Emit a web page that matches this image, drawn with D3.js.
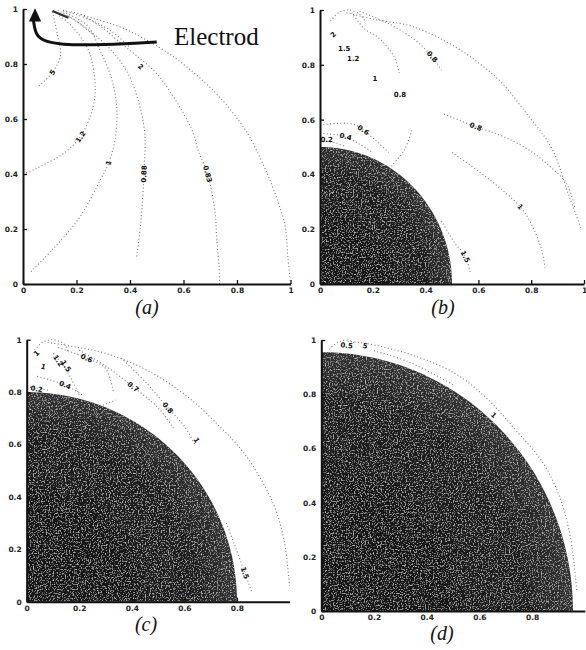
<!DOCTYPE html>
<html>
<head>
<meta charset="utf-8">
<script src="https://cdn.jsdelivr.net/npm/d3@7"></script>
<style>
  html, body { margin: 0; padding: 0; background: #fff; }
  svg { display: block; }
  .tick text { font-family: "DejaVu Sans", sans-serif; font-size: 7.5px; font-weight: bold; fill: #222; }
  .domain { stroke: #111; stroke-width: 2; }
  .tick line { stroke: #111; stroke-width: 1.3; }
</style>
</head>
<body>
<div id="chart"></div>
<script>
// axis ticks
const tickValues = [0, 0.2, 0.4, 0.6, 0.8, 1];
const tickValuesShort = [0, 0.2, 0.4, 0.6, 0.8];

const panelNames = ['(a)', '(b)', '(c)', '(d)'];
// radius of the shaded quarter disc in each panel (0 = none)
const sphereRadius = [0, 0.5, 0.8, 0.955];

// contour lines, in data units
const contoursA = [
  [[0.11, 0.99], [0.13, 0.9], [0.14, 0.83], [0.11, 0.77], [0.06, 0.72]],
  [[0.0, 0.40], [0.04, 0.415], [0.08, 0.435], [0.145, 0.47], [0.21, 0.53], [0.255, 0.62], [0.27, 0.7], [0.26, 0.8], [0.24, 0.86], [0.18, 0.94], [0.13, 0.98]],
  [[0.03, 0.045], [0.11, 0.125], [0.21, 0.24], [0.29, 0.38], [0.32, 0.44], [0.345, 0.53], [0.35, 0.65], [0.33, 0.75], [0.29, 0.845], [0.24, 0.94], [0.15, 0.99]],
  [[0.425, 0.1], [0.44, 0.22], [0.452, 0.4], [0.455, 0.55], [0.43, 0.67], [0.39, 0.77], [0.33, 0.85], [0.25, 0.92], [0.17, 0.975]],
  [[0.735, 0.0], [0.733, 0.06], [0.724, 0.17], [0.718, 0.26], [0.69, 0.4], [0.655, 0.485], [0.636, 0.55], [0.6, 0.62], [0.556, 0.69], [0.5, 0.765], [0.425, 0.83], [0.36, 0.88], [0.3, 0.93], [0.21, 0.985]],
  [[1.0, 0.0], [0.99, 0.1], [0.98, 0.21], [0.953, 0.3], [0.92, 0.385], [0.9, 0.43], [0.85, 0.53], [0.81, 0.59], [0.735, 0.68], [0.66, 0.75], [0.585, 0.81], [0.51, 0.86], [0.375, 0.93], [0.26, 0.967], [0.18, 0.99]],
  [[0.13, 0.995], [0.2, 0.955], [0.27, 0.9]],
  [[0.15, 0.995], [0.24, 0.965], [0.33, 0.92], [0.4, 0.86]]
];
const contoursB = [
  [[0.1, 0.99], [0.21, 0.965], [0.35, 0.94], [0.51, 0.867], [0.61, 0.8], [0.69, 0.733], [0.776, 0.63], [0.878, 0.495], [0.94, 0.33], [0.99, 0.2]],
  [[0.47, 0.62], [0.59, 0.574], [0.69, 0.54], [0.79, 0.49], [0.87, 0.43], [0.935, 0.365], [0.965, 0.28]],
  [[0.5, 0.48], [0.61, 0.405], [0.69, 0.343], [0.758, 0.282], [0.8, 0.22], [0.84, 0.124], [0.852, 0.06]],
  [[0.46, 0.23], [0.51, 0.15], [0.55, 0.1], [0.57, 0.04]],
  [[0.27, 0.43], [0.32, 0.49], [0.35, 0.57]],
  [[0.12, 0.99], [0.17, 0.93], [0.22, 0.9], [0.28, 0.83], [0.3, 0.77]],
  [[0.15, 0.995], [0.26, 0.95], [0.36, 0.89], [0.425, 0.83], [0.46, 0.78]],
  [[0.0, 0.58], [0.12, 0.585], [0.164, 0.562], [0.215, 0.52], [0.26, 0.48]],
  [[0.0, 0.55], [0.097, 0.538], [0.15, 0.51], [0.2, 0.48]],
  [[0.0, 0.515], [0.025, 0.52], [0.06, 0.515], [0.1, 0.5]],
  [[0.04, 0.96], [0.07, 0.99], [0.11, 1.0], [0.15, 0.985], [0.17, 0.96]]
];
const contoursC = [
  [[0.08, 0.99], [0.18, 0.973], [0.3, 0.948], [0.468, 0.878], [0.62, 0.776], [0.735, 0.668], [0.8, 0.6], [0.86, 0.52], [0.94, 0.37], [0.98, 0.23], [1.0, 0.06]],
  [[0.2, 0.96], [0.3, 0.9], [0.405, 0.82], [0.5, 0.74], [0.56, 0.66]],
  [[0.36, 0.93], [0.46, 0.83], [0.537, 0.74], [0.6, 0.67], [0.64, 0.6]],
  [[0.76, 0.3], [0.79, 0.22], [0.83, 0.11], [0.855, 0.04]],
  [[0.29, 0.75], [0.34, 0.77]],
  [[0.0, 0.82], [0.04, 0.815], [0.09, 0.805]],
  [[0.04, 0.86], [0.146, 0.827], [0.21, 0.79]],
  [[0.2, 0.79], [0.17, 0.85], [0.14, 0.9], [0.1, 0.95]],
  [[0.12, 0.97], [0.228, 0.93], [0.3, 0.89], [0.33, 0.8]],
  [[0.03, 0.96], [0.06, 0.99], [0.1, 1.0], [0.14, 0.985], [0.16, 0.95]]
];
const contoursD = [
  [[0.1, 0.995], [0.166, 0.988], [0.343, 0.945], [0.507, 0.877], [0.634, 0.779], [0.748, 0.656], [0.8, 0.6], [0.854, 0.527], [0.906, 0.417], [0.944, 0.28], [0.965, 0.12], [0.97, 0.07]],
  [[0.2, 0.96], [0.33, 0.92], [0.5, 0.835]],
  [[0.03, 0.965], [0.06, 0.99], [0.1, 1.0], [0.13, 0.985]]
];

// contour labels: [text, x, y]
const labelsA = [['5', 0.11, 0.77], ['1.2', 0.215, 0.535], ['1', 0.32, 0.44], ['0.88', 0.452, 0.4], ['0.83', 0.69, 0.4], ['2', 0.44, 0.79]];
const labelsB = [['2', 0.05, 0.91], ['1.5', 0.092, 0.86], ['1.2', 0.126, 0.824], ['1', 0.208, 0.75], ['0.8', 0.303, 0.69], ['0.8', 0.425, 0.83],
  ['0.6', 0.164, 0.562], ['0.4', 0.097, 0.538], ['0.2', 0.025, 0.526], ['0.8', 0.59, 0.574], ['1', 0.758, 0.282], ['1.5', 0.55, 0.1]];
const labelsC = [['1', 0.037, 0.948], ['1', 0.063, 0.897], ['1.2', 0.12, 0.92], ['1.5', 0.15, 0.9], ['0.6', 0.228, 0.929], ['0.4', 0.146, 0.827],
  ['0.2', 0.038, 0.812], ['0.7', 0.405, 0.82], ['0.8', 0.537, 0.74], ['1', 0.646, 0.617], ['1.5', 0.83, 0.11]];
const labelsD = [['0.5', 0.096, 0.98], ['5', 0.166, 0.978], ['1', 0.654, 0.723]];

// electrode arrow in panel (a)
const arrowPathA = [[0.5, 0.88], [0.3, 0.869], [0.138, 0.869], [0.064, 0.887], [0.045, 0.917], [0.039, 0.96]];
const arrowHeadA = [[0.045, 1.003], [0.022, 0.955], [0.068, 0.955]];
const electrodeA = [[0.11, 0.993], [0.17, 0.968]];

const width = 586, height = 650;

const frames = [
  { left: 23, right: 290.5, bottom: 284, top: 9, label: [147, 314] },
  { left: 320, right: 584, bottom: 284, top: 10, label: [443, 314] },
  { left: 26.7, right: 289.5, bottom: 601.7, top: 339.7, label: [146, 631] },
  { left: 321.3, right: 584.8, bottom: 611, top: 340, label: [442, 640] }
];
const contours = [contoursA, contoursB, contoursC, contoursD];
const labels = [labelsA, labelsB, labelsC, labelsD];

const svg = d3.select('#chart').append('svg')
  .attr('width', width)
  .attr('height', height);

svg.append('rect').attr('width', width).attr('height', height).attr('fill', '#fff');

const defs = svg.append('defs');
const grad = defs.append('radialGradient')
  .attr('id', 'sphereFill')
  .attr('cx', '0').attr('cy', '1').attr('r', '1')
  .attr('gradientUnits', 'objectBoundingBox');
grad.append('stop').attr('offset', '0').attr('stop-color', '#141414');
grad.append('stop').attr('offset', '0.8').attr('stop-color', '#1c1c1c');
grad.append('stop').attr('offset', '1').attr('stop-color', '#333');

// speckled look of the scanned disc
const grain = defs.append('filter').attr('id', 'grain')
  .attr('x', 0).attr('y', 0).attr('width', 1).attr('height', 1);
grain.append('feTurbulence')
  .attr('type', 'fractalNoise').attr('baseFrequency', 0.75)
  .attr('numOctaves', 2).attr('seed', 9).attr('result', 'noise');
grain.append('feColorMatrix')
  .attr('in', 'noise').attr('type', 'matrix')
  .attr('values', '0 0 0 0 0.55  0 0 0 0 0.55  0 0 0 0 0.55  3.5 0 0 0 -1.85')
  .attr('result', 'spots');
grain.append('feComposite')
  .attr('in', 'spots').attr('in2', 'SourceGraphic').attr('operator', 'in')
  .attr('result', 'clipped');
const merge = grain.append('feMerge');
merge.append('feMergeNode').attr('in', 'SourceGraphic');
merge.append('feMergeNode').attr('in', 'clipped');

const curve = d3.line().curve(d3.curveCatmullRom.alpha(0.5));

frames.forEach((f, i) => {
  const x = d3.scaleLinear().domain([0, 1]).range([f.left, f.right]);
  const y = d3.scaleLinear().domain([0, 1]).range([f.bottom, f.top]);
  const g = svg.append('g');

  // shaded quarter disc
  const r = sphereRadius[i];
  if (r > 0) {
    const arcPts = d3.range(0, 91).map(a => {
      const t = a * Math.PI / 180;
      return [x(r * Math.cos(t)), y(r * Math.sin(t))];
    });
    const pts = [[x(0), y(0)], ...arcPts, [x(0), y(0)]];
    g.append('path')
      .attr('d', d3.line()(pts) + 'Z')
      .attr('fill', 'url(#sphereFill)')
      .attr('filter', 'url(#grain)');
  }

  // contour lines
  const line = curve.x(d => x(d[0])).y(d => y(d[1]));
  g.selectAll('.contour')
    .data(contours[i])
    .enter()
    .append('path')
    .attr('class', 'contour')
    .attr('d', d => line(d))
    .attr('fill', 'none')
    .attr('stroke', '#777')
    .attr('stroke-width', 1.1)
    .attr('stroke-dasharray', '1 2.4');

  // contour labels, turned along the nearest contour
  const allPts = [];
  contours[i].forEach(c => c.forEach((p, k) => allPts.push({ c, k })));
  labels[i].forEach(([t, lx, ly]) => {
    let best = null, bd = Infinity;
    allPts.forEach(o => {
      const p = o.c[o.k];
      const d = (x(p[0]) - x(lx)) ** 2 + (y(p[1]) - y(ly)) ** 2;
      if (d < bd) { bd = d; best = o; }
    });
    let ang = 0;
    if (best && bd < 400) {
      const a = best.c[Math.max(0, best.k - 1)];
      const b = best.c[Math.min(best.c.length - 1, best.k + 1)];
      ang = Math.atan2(y(b[1]) - y(a[1]), x(b[0]) - x(a[0])) * 180 / Math.PI;
      if (ang > 90) ang -= 180;
      if (ang <= -90) ang += 180;
    }
    g.append('text')
      .attr('transform', `translate(${x(lx)},${y(ly)}) rotate(${ang})`)
      .attr('text-anchor', 'middle')
      .attr('dy', '0.35em')
      .attr('font-family', 'DejaVu Sans, sans-serif')
      .attr('font-size', 7)
      .attr('font-weight', 'bold')
      .attr('fill', '#111')
      .text(t);
  });

  // axes
  const xTicks = i >= 2 ? tickValuesShort : tickValues;
  g.append('g')
    .attr('transform', `translate(0,${f.bottom})`)
    .call(d3.axisBottom(x).tickValues(xTicks).tickSize(-4).tickSizeOuter(0).tickPadding(4).tickFormat(d3.format('~g')));
  g.append('g')
    .attr('transform', `translate(${f.left},0)`)
    .call(d3.axisLeft(y).tickValues(tickValues).tickSize(-4).tickSizeOuter(0).tickPadding(5).tickFormat(d3.format('~g')));

  // panel caption
  svg.append('text')
    .attr('x', f.label[0])
    .attr('y', f.label[1])
    .attr('text-anchor', 'middle')
    .attr('font-family', 'Liberation Serif, serif')
    .attr('font-style', 'italic')
    .attr('font-size', 20)
    .attr('fill', '#111')
    .text(panelNames[i]);

  if (i === 0) {
    g.append('path')
      .attr('d', d3.line().curve(d3.curveBasis).x(d => x(d[0])).y(d => y(d[1]))(electrodeA))
      .attr('stroke', '#333').attr('stroke-width', 2.2).attr('fill', 'none');
    g.append('path')
      .attr('d', d3.line().curve(d3.curveBasis).x(d => x(d[0])).y(d => y(d[1]))(arrowPathA))
      .attr('stroke', '#111').attr('stroke-width', 3).attr('fill', 'none');
    g.append('path')
      .attr('d', d3.line().x(d => x(d[0])).y(d => y(d[1]))(arrowHeadA) + 'Z')
      .attr('fill', '#111');
    svg.append('text')
      .attr('x', 174).attr('y', 45)
      .attr('font-family', 'Liberation Serif, serif')
      .attr('font-size', 25)
      .attr('fill', '#111')
      .text('Electrod');
  }
});
</script>
</body>
</html>
